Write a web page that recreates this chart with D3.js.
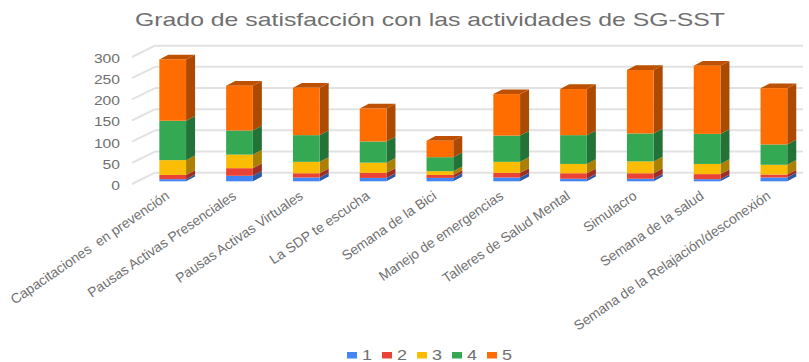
<!DOCTYPE html>
<html>
<head>
<meta charset="utf-8">
<script src="https://cdnjs.cloudflare.com/ajax/libs/d3/7.8.5/d3.min.js"></script>
<style>
  html, body { margin: 0; padding: 0; background: #fff; }
  svg { display: block; font-family: "Liberation Sans", Arial, sans-serif; }
</style>
</head>
<body>
<svg id="chart"></svg>
<script>
const categories = [
  "Capacitaciones  en prevención", "Pausas Activas Presenciales", "Pausas Activas Virtuales",
  "La SDP te escucha", "Semana de la Bici", "Manejo de emergencias",
  "Talleres de Salud Mental", "Simulacro", "Semana de la salud",
  "Semana de la Relajación/desconexión"
];
const seriesNames = ["1", "2", "3", "4", "5"];
const values1 = [5, 13, 9, 8, 8, 9, 6, 6, 5, 9];
const values2 = [10, 18, 10, 12, 7, 11, 13, 13, 12, 7];
const values3 = [35, 32, 27, 24, 9, 26, 22, 28, 24, 23];
const values4 = [93, 57, 63, 50, 33, 62, 68, 66, 71, 48];
const values5 = [145, 106, 112, 78, 39, 98, 109, 150, 161, 133];
const yTicks = [0, 50, 100, 150, 200, 250, 300];
const colors = ["#4285f4", "#ea4335", "#fbbc04", "#34a853", "#ff6d01"];
const TEXT = "#6f6f6f", GRID = "#e2e2e2";

const W = 809, H = 362;
const DX = 9, DY = 4.7;        // depth of a bar
const WALL_X = 132, BACK_X = 155, GRID_END = 803;
const FRONT_DY = 2.7, BACK_DY = -8.6;

const svg = d3.select("#chart").attr("width", W).attr("height", H);

svg.append("text")
  .attr("x", 135).attr("y", 26)
  .attr("font-size", 19)
  .attr("fill", TEXT)
  .attr("textLength", 590)
  .attr("lengthAdjust", "spacingAndGlyphs")
  .text("Grado de satisfacción con las actividades de SG-SST");

const x = d3.scaleBand().domain(categories)
  .range([139.3, 807.3]).paddingInner(0.6).paddingOuter(0.3);
const y = d3.scaleLinear().domain([0, 300]).range([181.3, 54.3]);

// Wall and floor gridlines, as plain segments
const gridG = svg.append("g");
yTicks.forEach(t => {
  gridG.append("line")
    .attr("x1", WALL_X).attr("y1", y(t) + FRONT_DY)
    .attr("x2", BACK_X).attr("y2", y(t) + BACK_DY)
    .attr("stroke", GRID).attr("stroke-width", 2);
  gridG.append("line")
    .attr("x1", BACK_X).attr("y1", y(t) + BACK_DY)
    .attr("x2", GRID_END).attr("y2", y(t) + BACK_DY)
    .attr("stroke", GRID).attr("stroke-width", 2);
});

// Axis labels
const yAxis = svg.append("g").attr("transform", `translate(120,${FRONT_DY + 1.5})`)
  .call(d3.axisLeft(y).tickValues(yTicks).tickSize(0).tickPadding(0));
yAxis.select(".domain").remove();
yAxis.selectAll("text")
  .attr("font-family", "Liberation Sans, Arial, sans-serif")
  .attr("font-size", 12)
  .attr("fill", TEXT)
  .attr("textLength", d => String(d).length * 8.7)
  .attr("lengthAdjust", "spacingAndGlyphs");

// Stacked 3D bars
const rows = categories.map((c, i) => ({
  cat: c, "1": values1[i], "2": values2[i], "3": values3[i], "4": values4[i], "5": values5[i]
}));
const stacked = d3.stack().keys(seriesNames)(rows);
const shade = (c, k) => { const r = d3.rgb(c); return d3.rgb(r.r * k, r.g * k, r.b * k).formatHex(); };

stacked.forEach((layer, li) => {
  const g = svg.append("g");
  layer.forEach(d => {
    const x0 = x(d.data.cat), x1 = x0 + x.bandwidth();
    const y0 = y(d[0]), y1 = y(d[1]);
    g.append("polygon")
      .attr("fill", shade(colors[li], 0.68))
      .attr("points", [[x1, y0], [x1 + DX, y0 - DY], [x1 + DX, y1 - DY], [x1, y1]].join(" "));
    if (li === stacked.length - 1) {
      g.append("polygon")
        .attr("fill", shade(colors[li], 0.74))
        .attr("points", [[x0, y1], [x0 + DX, y1 - DY], [x1 + DX, y1 - DY], [x1, y1]].join(" "));
    }
    g.append("rect")
      .attr("x", x0).attr("y", y1)
      .attr("width", x.bandwidth()).attr("height", y0 - y1)
      .attr("fill", colors[li]);
  });
});

// Rotated category labels
svg.append("g").selectAll("text").data(categories).join("text")
  .attr("transform", d => `translate(${x(d) + 11},${198}) rotate(-34.5)`)
  .attr("text-anchor", "end")
  .attr("font-size", 13.8)
  .attr("fill", TEXT)
  .style("white-space", "pre")
  .text(d => d);

// Legend
const legendX = d3.scalePoint().domain(seriesNames).range([347, 487]);
const legend = svg.append("g").selectAll("g").data(seriesNames).join("g")
  .attr("transform", d => `translate(${legendX(d)},0)`);
legend.append("rect")
  .attr("y", 352).attr("width", 10).attr("height", 6.5)
  .attr("fill", (d, i) => colors[i]);
legend.append("text")
  .attr("x", 15).attr("y", 360)
  .attr("font-size", 14)
  .attr("fill", TEXT)
  .attr("textLength", 10)
  .attr("lengthAdjust", "spacingAndGlyphs")
  .text(d => d);
</script>
</body>
</html>
